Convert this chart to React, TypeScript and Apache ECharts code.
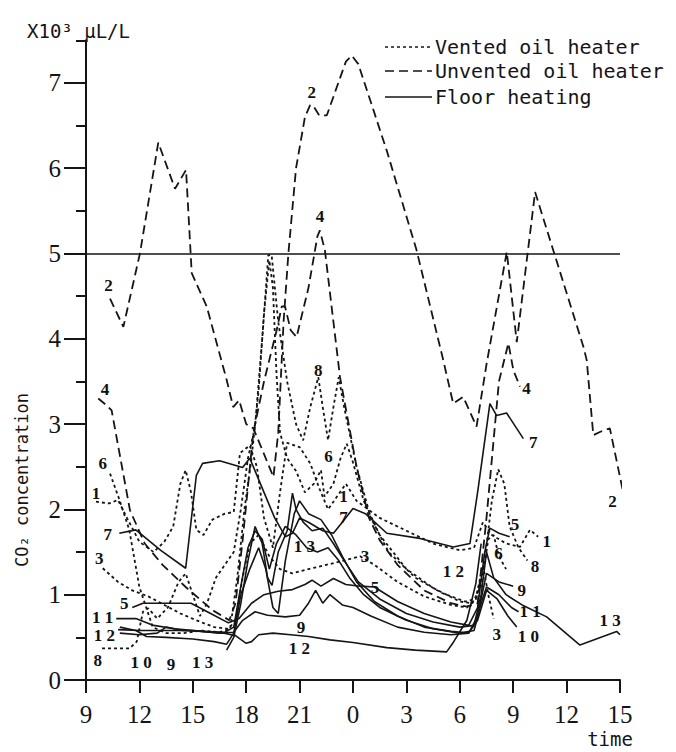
import React, { useEffect, useRef } from "react";
import * as echarts from "echarts";

type P = [number, number];

// hours counted from 0:00 of day 1 (9 = 9:00 day 1, 33 = 9:00 day 2)
const S1: P[] = [[9.56,2.09],[10.3,2.07],[10.8,2.11],[11.3,1.9],[12.0,1.62],[12.8,1.5],[13.4,1.62],[13.9,1.8],[14.3,2.3],[14.6,2.46],[14.9,2.2],[15.2,1.76],[15.6,1.7],[16.1,1.88],[16.8,1.95],[17.3,1.97],[17.65,2.66],[18.2,2.75],[18.6,2.5],[19.0,1.9],[19.5,1.55],[19.9,2.2],[20.3,2.78],[21.0,2.73],[21.6,2.54],[22.1,2.25],[22.6,2.0],[23.1,2.15],[23.6,2.3],[24.2,2.1],[25.5,1.9],[27,1.75],[28.5,1.6],[30,1.52],[30.8,1.55],[31.3,1.85],[31.8,1.7],[32.6,1.6],[33.38,1.56],[33.94,1.76],[34.4,1.68]];
const S2: P[] = [[10.35,4.47],[11.1,4.14],[12.03,5.0],[13.06,6.3],[14.0,5.76],[14.62,5.98],[14.94,4.77],[15.78,4.38],[16.9,3.52],[17.27,3.2],[17.6,3.28],[18.0,3.0],[18.4,2.95],[18.9,2.7],[19.53,2.38],[19.8,2.9],[20.1,4.2],[20.37,5.0],[20.8,6.0],[21.3,6.6],[21.59,6.74],[21.8,6.72],[22.1,6.62],[22.53,6.62],[23.6,7.25],[23.93,7.32],[24.3,7.22],[25.89,6.21],[27.57,5.04],[29.07,3.75],[29.63,3.24],[30.19,3.32],[30.94,2.97],[31.5,3.7],[32.25,4.57],[32.64,5.02],[33.2,3.96],[34.23,5.72],[36.94,3.91],[37.13,3.75],[37.5,2.87],[37.9,2.91],[38.43,2.95],[39.15,2.23]];
const S3: P[] = [[9.94,1.31],[10.8,1.15],[11.6,1.05],[12.5,0.98],[13.4,0.88],[14.3,0.78],[15.2,0.7],[16.2,0.62],[17.0,0.6],[17.4,0.7],[17.8,1.2],[18.2,1.6],[18.7,1.7],[19.3,1.45],[19.9,1.3],[20.6,1.25],[21.5,1.3],[22.5,1.35],[23.5,1.4],[24.4,1.45],[25.2,1.35],[26.5,1.15],[28,0.98],[29.5,0.88],[30.4,0.85],[30.9,0.95],[31.3,1.35],[31.6,1.0],[31.9,0.72]];
const S4: P[] = [[9.69,3.3],[10.16,3.22],[10.44,3.16],[11.47,1.99],[12.3,1.6],[13.3,1.35],[14.6,1.09],[16.1,0.82],[17.05,0.7],[17.4,0.9],[17.8,1.64],[18.4,2.9],[19.0,3.5],[19.71,4.1],[20.0,4.38],[20.18,4.38],[20.5,4.1],[20.83,4.02],[21.5,4.6],[22.0,5.2],[22.14,5.27],[22.42,5.04],[23.27,3.55],[24.2,2.5],[24.9,1.9],[25.5,1.64],[26.5,1.35],[28,1.05],[29.5,0.9],[30.4,0.86],[31.0,0.9],[31.5,1.9],[32.2,3.5],[32.73,3.95],[33.01,3.63],[33.38,3.44]];
const S5: P[] = [[11.6,0.85],[12.2,0.9],[14.9,0.9],[16.0,0.78],[17.0,0.67],[17.6,0.72],[18.3,0.9],[19.0,1.0],[19.8,1.04],[20.6,1.06],[21.3,1.12],[21.7,1.17],[22.2,1.1],[22.9,1.19],[23.6,1.12],[24.4,1.1],[25.2,1.09],[26.5,0.92],[28,0.78],[29.5,0.68],[30.5,0.64],[31.0,0.85],[31.4,1.5],[31.69,1.78],[32.2,1.72],[32.8,1.68]];
const S6: P[] = [[10.35,2.42],[10.9,2.1],[11.43,1.76],[12.0,1.09],[12.75,0.62],[13.5,0.55],[14.5,0.55],[15.5,0.58],[16.5,0.56],[17.1,0.6],[17.5,1.2],[17.9,2.0],[18.3,2.6],[18.7,3.4],[19.0,4.3],[19.3,4.92],[19.5,4.6],[19.7,3.6],[19.9,2.9],[20.3,2.6],[20.8,2.45],[21.3,2.2],[21.8,2.3],[22.2,2.46],[22.4,2.15],[22.9,2.3],[23.3,2.6],[23.65,2.77],[24.0,2.55],[24.6,2.1],[25.5,1.7],[27,1.3],[28.5,1.08],[30,0.92],[30.7,0.9],[31.2,1.1],[31.6,1.65],[31.9,1.7],[32.2,1.45],[32.6,1.3]];
const S7: P[] = [[10.87,1.72],[11.8,1.76],[13.2,1.52],[14.6,1.31],[15.2,2.4],[15.55,2.54],[16.5,2.57],[17.8,2.49],[18.2,2.6],[19.1,2.15],[19.6,1.9],[20.2,1.68],[20.6,1.72],[21.0,1.9],[21.5,1.85],[22.3,1.75],[22.9,1.72],[23.4,1.85],[24.0,2.01],[24.7,1.95],[25.9,1.72],[27.76,1.66],[29.63,1.56],[30.57,1.6],[31.0,2.2],[31.69,3.24],[32.07,3.1],[32.63,3.13],[33.57,2.83]];
const S8: P[] = [[9.9,0.37],[11.45,0.37],[11.85,0.45],[12.2,0.8],[12.5,0.84],[13.0,0.72],[13.6,0.85],[14.2,1.15],[14.6,1.25],[15.0,1.0],[15.4,0.75],[15.8,0.9],[16.3,1.2],[16.8,1.35],[17.3,1.5],[17.7,2.0],[18.1,2.6],[18.5,2.97],[18.9,4.0],[19.24,4.98],[19.43,4.98],[19.8,4.2],[20.3,3.5],[20.8,3.0],[21.2,2.81],[21.6,3.2],[22.05,3.55],[22.3,3.2],[22.6,2.81],[22.9,3.2],[23.2,3.55],[23.5,3.2],[24.2,2.5],[25,1.9],[26,1.5],[27.5,1.2],[29,1.02],[30.3,0.92],[30.9,0.95],[31.4,1.4],[31.8,2.1],[32.16,2.47],[32.5,2.3],[32.8,1.8],[33.3,1.55],[33.8,1.4]];
const S9: P[] = [[10.9,0.55],[12.0,0.53],[13.0,0.55],[13.5,0.62],[14.4,0.58],[15.5,0.57],[16.5,0.55],[17.3,0.56],[17.8,0.7],[18.5,0.8],[19.2,0.76],[20.2,0.74],[21.0,0.76],[21.5,0.9],[21.9,1.05],[22.3,0.9],[22.7,1.0],[23.4,0.88],[24.0,0.85],[25,0.75],[26.5,0.62],[28,0.56],[29.5,0.53],[30.5,0.55],[31.0,0.75],[31.5,1.25],[32.2,1.15],[33.0,1.1]];
const S10: P[] = [[10.9,0.62],[11.8,0.58],[12.4,0.51],[13.5,0.5],[15,0.48],[16.2,0.45],[16.9,0.42],[17.3,0.55],[17.7,1.0],[18.2,1.3],[18.7,1.55],[19.1,1.3],[19.5,0.85],[19.8,0.78],[20.2,1.4],[20.7,1.95],[21.0,2.1],[21.5,1.95],[22.2,1.88],[22.8,1.7],[23.4,1.45],[24.2,1.15],[25.2,0.92],[26.5,0.75],[28,0.62],[29.5,0.57],[30.5,0.55],[31.0,0.7],[31.5,1.05],[32.1,0.95],[32.7,0.75],[33.2,0.62]];
const S11: P[] = [[10.7,0.72],[11.8,0.72],[12.8,0.64],[14.0,0.6],[15.5,0.57],[16.8,0.56],[17.3,0.62],[17.7,1.1],[18.1,1.55],[18.5,1.75],[18.9,1.65],[19.3,1.3],[19.7,1.6],[20.2,1.8],[20.8,1.7],[21.4,1.55],[22.0,1.5],[22.6,1.55],[23.2,1.4],[23.8,1.2],[24.6,1.0],[25.5,0.85],[27,0.7],[28.5,0.6],[30.0,0.55],[30.8,0.58],[31.2,0.9],[31.5,1.09],[32.2,1.0],[32.9,0.85],[33.3,0.8]];
const S12: P[] = [[10.8,0.59],[12,0.58],[13.5,0.58],[15,0.58],[16.7,0.55],[17.4,0.52],[18.0,0.43],[18.3,0.45],[18.7,0.53],[19.5,0.55],[20.5,0.53],[21.5,0.51],[22.71,0.47],[24,0.44],[25.9,0.38],[27.5,0.35],[29.26,0.33],[29.6,0.43],[30.4,0.7],[30.9,1.13],[31.2,1.6]];
const S13: P[] = [[16.9,0.35],[17.3,0.5],[17.7,0.9],[18.1,1.4],[18.5,1.8],[18.9,1.6],[19.2,1.2],[19.45,1.11],[19.8,1.5],[20.3,1.75],[20.6,2.19],[20.8,2.0],[21.2,1.85],[21.7,1.75],[22.3,1.78],[22.9,1.6],[23.5,1.4],[24.3,1.15],[25.5,0.95],[27,0.78],[28.5,0.68],[30,0.62],[30.8,0.64],[31.2,1.0],[31.5,1.5],[31.9,1.2],[32.6,1.0],[33.5,0.88],[34.88,0.74],[36.75,0.41],[38.81,0.57],[39.0,0.53]];

const SERIES_DEF: { id: string; kind: "vented" | "unvented" | "floor"; data: P[] }[] = [
  { id: "1", kind: "vented", data: S1 },
  { id: "2", kind: "unvented", data: S2 },
  { id: "3", kind: "vented", data: S3 },
  { id: "4", kind: "unvented", data: S4 },
  { id: "5", kind: "floor", data: S5 },
  { id: "6", kind: "vented", data: S6 },
  { id: "7", kind: "floor", data: S7 },
  { id: "8", kind: "vented", data: S8 },
  { id: "9", kind: "floor", data: S9 },
  { id: "10", kind: "floor", data: S10 },
  { id: "11", kind: "floor", data: S11 },
  { id: "12", kind: "floor", data: S12 },
  { id: "13", kind: "floor", data: S13 },
];

// curve number labels: [text, hour, value]
const LABELS: [string, number, number][] = [
  ["2",10.26,4.63],["4",10.07,3.40],["6",9.94,2.54],["1",9.56,2.19],["7",10.22,1.71],["3",9.75,1.43],["5",11.15,0.90],["1 1",9.94,0.73],["1 2",10.03,0.52],["8",9.66,0.23],["1 0",12.09,0.20],["9",13.78,0.18],["1 3",15.55,0.20],
  ["2",21.68,6.89],["4",22.14,5.43],["8",22.05,3.63],["6",22.62,2.62],["1",23.46,2.15],["7",23.46,1.91],["1 3",21.27,1.56],["9",21.08,0.62],["1 2",20.99,0.37],["3",24.68,1.45],["5",25.24,1.09],["1 2",29.64,1.27],
  ["4",33.75,3.42],["7",34.13,2.79],["2",38.58,2.09],["5",33.1,1.82],["1",34.88,1.62],["6",32.17,1.48],["8",34.23,1.33],["9",33.48,1.05],["1 1",33.95,0.8],["3",32.07,0.53],["1 0",33.85,0.51],["1 3",38.44,0.70],
];

const LEGEND: { kind: "vented" | "unvented" | "floor"; text: string }[] = [
  { kind: "vented", text: "Vented oil heater" },
  { kind: "unvented", text: "Unvented oil heater" },
  { kind: "floor", text: "Floor heating" },
];

const THRESHOLD = 5;
const X_MIN = 9;
const X_MAX = 39;

const INK = "#151515";
const MONO = '"DejaVu Sans Mono", monospace';
const SERIF = '"Liberation Serif", serif';

const DASH: Record<string, any> = {
  vented: [3, 3],
  unvented: [9, 5],
  floor: "solid",
};

export default function App() {
  const ref = useRef<HTMLDivElement>(null);
  useEffect(() => {
    if (!ref.current) return;
    const chart = echarts.init(ref.current, undefined, { renderer: "svg" });
    const gridPos = { left: 86, right: 56, bottom: 72 };
    const lineSeries: any[] = SERIES_DEF.map((s, i) => ({
      type: "line",
      name: s.id,
      xAxisIndex: 0,
      yAxisIndex: 0,
      data: s.data,
      showSymbol: false,
      symbol: "none",
      clip: false,
      silent: true,
      lineStyle: { color: INK, width: s.kind === "floor" ? 1.6 : 1.8, type: DASH[s.kind] },
      z: 3,
      ...(i === 0
        ? {
            markLine: {
              silent: true,
              symbol: ["none", "none"],
              label: { show: false },
              lineStyle: { type: "solid", color: INK, width: 1.6 },
              data: [{ yAxis: THRESHOLD }],
            },
          }
        : {}),
    }));
    const labelSeries = {
      type: "scatter",
      xAxisIndex: 0,
      yAxisIndex: 0,
      symbolSize: 1,
      silent: true,
      z: 5,
      itemStyle: { color: "rgba(0,0,0,0)", opacity: 1 },
      emphasis: { disabled: true },
      data: LABELS.map((l) => [l[1], l[2], l[0]]),
      label: {
        show: true,
        position: "inside",
        formatter: (p: any) => p.data[2],
        fontFamily: SERIF,
        fontWeight: "bold",
        fontSize: 17,
        color: "#111111",
        opacity: 1,
        textBorderColor: "transparent",
        textBorderWidth: 0,
        textShadowBlur: 0,
      },
    };
    const legendGraphics: any[] = [];
    LEGEND.forEach((l, i) => {
      const y = [47, 71, 97][i];
      legendGraphics.push({
        type: "line",
        shape: { x1: 385, y1: y, x2: 432, y2: y },
        style: { stroke: INK, lineWidth: 1.6, lineDash: l.kind === "floor" ? null : DASH[l.kind] },
      });
      legendGraphics.push({
        type: "text",
        x: 435,
        y,
        style: { text: l.text, fontFamily: MONO, fontSize: 20, fill: INK, verticalAlign: "middle", align: "left" },
      });
    });
    chart.setOption({
      animation: false,
      backgroundColor: "#ffffff",
      grid: [
        { ...gridPos, top: 680 - 7.5 * 85.3 },
        { ...gridPos, top: 680 - 7 * 85.3 },
      ],
      xAxis: [
        {
          type: "value",
          gridIndex: 0,
          min: X_MIN,
          max: X_MAX,
          interval: 3,
          splitLine: { show: false },
          axisLine: { lineStyle: { color: INK, width: 2 } },
          axisTick: { length: 13, lineStyle: { color: INK, width: 2 } },
          axisLabel: {
            color: INK,
            fontFamily: SERIF,
            fontSize: 25,
            margin: 22,
            formatter: (v: number) => String(((v % 24) + 24) % 24),
          },
        },
        { type: "value", gridIndex: 1, min: X_MIN, max: X_MAX, show: false },
      ],
      yAxis: [
        {
          type: "value",
          gridIndex: 0,
          min: 0,
          max: 7.5,
          interval: 0.5,
          splitLine: { show: false },
          axisLine: { show: true, lineStyle: { color: INK, width: 2 } },
          axisTick: { show: true, length: 10, lineStyle: { color: INK, width: 2 } },
          axisLabel: { show: false },
        },
        {
          type: "value",
          gridIndex: 1,
          min: 0,
          max: 7,
          interval: 1,
          splitLine: { show: false },
          axisLine: { show: false },
          axisTick: { show: true, length: 22, lineStyle: { color: INK, width: 2 } },
          axisLabel: { color: INK, fontFamily: SERIF, fontSize: 25, margin: 25 },
        },
      ],
      series: [...lineSeries, labelSeries],
      graphic: [
        ...legendGraphics,
        {
          type: "text",
          x: 27,
          y: 31,
          style: { text: "X10³ μL/L", fontFamily: MONO, fontSize: 19, fill: INK, verticalAlign: "middle" },
        },
        {
          type: "text",
          x: 22,
          y: 480,
          rotation: Math.PI / 2,
          style: { text: "CO₂ concentration", fontFamily: MONO, fontSize: 17, fill: INK, align: "center", verticalAlign: "middle" },
        },
        {
          type: "text",
          x: 610,
          y: 739,
          style: { text: "time", fontFamily: MONO, fontSize: 19, fill: INK, align: "center", verticalAlign: "middle" },
        },
      ],
    });
    return () => chart.dispose();
  }, []);
  return (
    <div
      ref={ref}
      style={{ position: "absolute", left: 0, top: 0, width: 676, height: 752, background: "#fff" }}
    />
  );
}
